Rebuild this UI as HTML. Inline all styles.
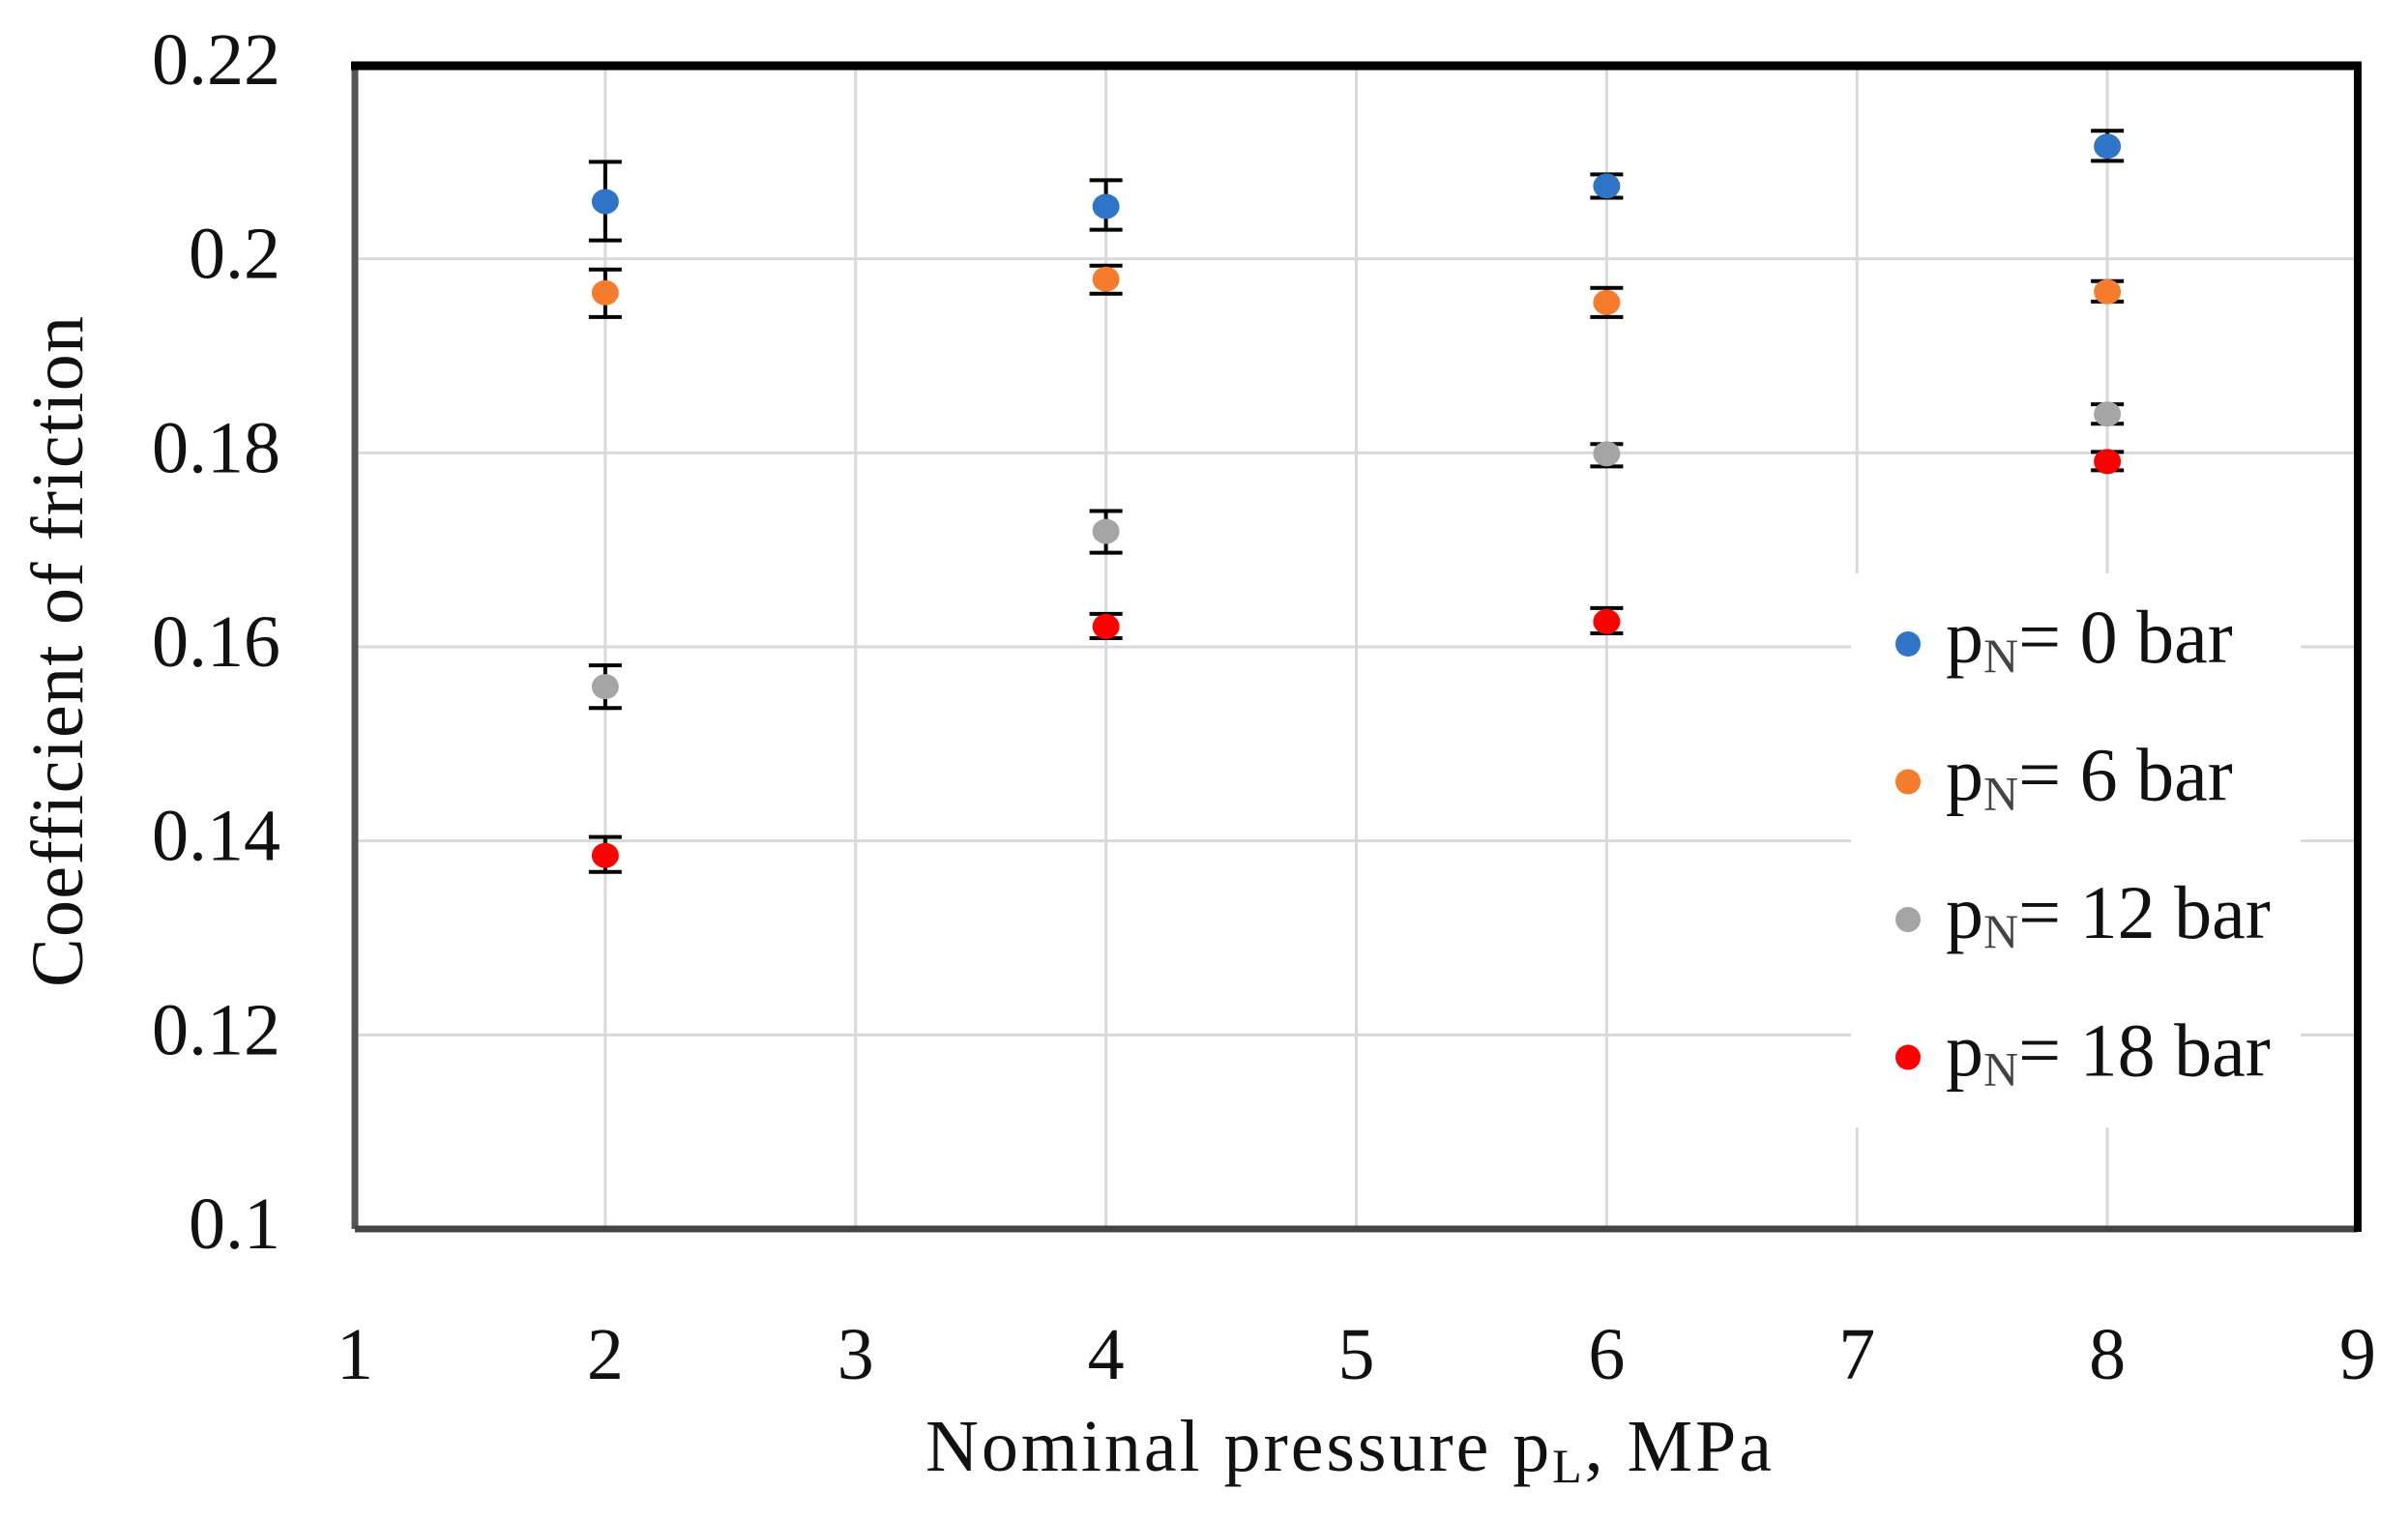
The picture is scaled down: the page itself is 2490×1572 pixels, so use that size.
<!DOCTYPE html>
<html>
<head>
<meta charset="utf-8">
<style>
  html, body { margin: 0; padding: 0; background: #fff; }
  svg { display: block; }
  text { font-family: "Liberation Serif", "DejaVu Serif", serif; fill: #111; }
</style>
</head>
<body>
<svg id="chart" width="2490" height="1572" viewBox="0 0 2490 1572" xmlns="http://www.w3.org/2000/svg">
  <g id="grid"></g>
  <g id="marks"></g>
  <rect x="1914" y="593" width="465" height="573" fill="#fff"/>
  <g id="legend"></g>
  <g>
    <line x1="367" y1="67" x2="367" y2="1271" stroke="#555" stroke-width="7"/>
    <line x1="367" y1="1271" x2="2438" y2="1271" stroke="#444" stroke-width="7"/>
    <line x1="2438" y1="67" x2="2438" y2="1274" stroke="#000" stroke-width="8"/>
    <line x1="363" y1="68" x2="2442" y2="68" stroke="#000" stroke-width="9"/>
  </g>
  <g id="ticks"></g>
  <text x="957" y="1521" font-size="76" textLength="875" lengthAdjust="spacing">Nominal pressure p<tspan font-size="50" dy="12">L</tspan><tspan dy="-12">, MPa</tspan></text>
  <text transform="translate(85,674) rotate(-90)" text-anchor="middle" font-size="76" textLength="694" lengthAdjust="spacing">Coefficient of friction</text>
</svg>
<script>
const xTicks = [1, 2, 3, 4, 5, 6, 7, 8, 9];
const yTicks = [0.1, 0.12, 0.14, 0.16, 0.18, 0.2, 0.22];
const yTickLabels = ["0.1", "0.12", "0.14", "0.16", "0.18", "0.2", "0.22"];
const xValues = [2, 4, 6, 8];
const seriesNames = ["p_N= 0 bar", "p_N= 6 bar", "p_N= 12 bar", "p_N= 18 bar"];
const legendValues = ["0", "6", "12", "18"];
const seriesColors = ["#2e75c8", "#f47c2a", "#a5a5a5", "#ff0000"];
const s0 = [0.2059, 0.2054, 0.2075, 0.2116];
const s0Hi = [0.2100, 0.2081, 0.2087, 0.2132];
const s0Lo = [0.2019, 0.2030, 0.2063, 0.2101];
const s1 = [0.1965, 0.1979, 0.1955, 0.1966];
const s1Hi = [0.1989, 0.1993, 0.1970, 0.1977];
const s1Lo = [0.1940, 0.1964, 0.1940, 0.1956];
const s2 = [0.1559, 0.1719, 0.1799, 0.1840];
const s2Hi = [0.1581, 0.1740, 0.1809, 0.1850];
const s2Lo = [0.1537, 0.1697, 0.1786, 0.1830];
const s3 = [0.1385, 0.1621, 0.1626, 0.1791];
const s3Hi = [0.1404, 0.1634, 0.1640, 0.1801];
const s3Lo = [0.1368, 0.1609, 0.1614, 0.1782];

const NS = "http://www.w3.org/2000/svg";
const L = 367, R = 2438, T = 67, B = 1271;
const xMin = 1, xMax = 9, yMin = 0.1, yMax = 0.22;
function sx(v) { return L + (v - xMin) / (xMax - xMin) * (R - L); }
function sy(v) { return B - (v - yMin) / (yMax - yMin) * (B - T); }
function mk(tag, attrs, parent) {
  const e = document.createElementNS(NS, tag);
  for (const k in attrs) e.setAttribute(k, attrs[k]);
  parent.appendChild(e);
  return e;
}
const grid = document.getElementById("grid");
const ticks = document.getElementById("ticks");
xTicks.forEach((t) => {
  if (t > xMin && t < xMax) {
    const g = mk("line", {x1: sx(t), x2: sx(t), y1: T, y2: B, stroke: "#d9d9d9", "stroke-width": 3}, grid);
    
    
  }
  const lb = mk("text", {x: sx(t), y: 1426, "text-anchor": "middle", "font-size": 76}, ticks);
  lb.textContent = String(t);
  
  
});
yTicks.forEach((t, i) => {
  if (i > 0 && i < yTicks.length - 1) {
    const g = mk("line", {x1: L, x2: R, y1: sy(t), y2: sy(t), stroke: "#d9d9d9", "stroke-width": 3}, grid);
    
    
  }
  const lb = mk("text", {x: 290, y: sy(t) + 20, "text-anchor": "end", "font-size": 76}, ticks);
  lb.textContent = yTickLabels[i];
  
  
});
const marks = document.getElementById("marks");
const all = [[s0, s0Hi, s0Lo], [s1, s1Hi, s1Lo], [s2, s2Hi, s2Lo], [s3, s3Hi, s3Lo]];
all.forEach((s, si) => {
  const g = mk("g", {}, marks);
  
  
  xValues.forEach((xv, i) => {
    const cx = sx(xv);
    const eb = mk("path", {d: `M${cx},${sy(s[1][i])}V${sy(s[2][i])}M${cx-17},${sy(s[1][i])}H${cx+17}M${cx-17},${sy(s[2][i])}H${cx+17}`, stroke: "#000", "stroke-width": 4, fill: "none"}, g);
    
    
    const p = mk("ellipse", {cx: cx, cy: sy(s[0][i]), rx: 14, ry: 13, fill: seriesColors[si]}, g);
    
    
  });
});
const legend = document.getElementById("legend");
legendValues.forEach((v, i) => {
  const y = 685 + i * 142.5;
  const g = mk("g", {}, legend);
  
  
  mk("circle", {cx: 1973, cy: y - 19, r: 13, fill: seriesColors[i]}, g);
  const t = mk("text", {x: 2012, y: y, "font-size": 78}, g);
  t.innerHTML = 'p<tspan font-size="50" dy="10" fill="#444">N</tspan><tspan dy="-10">= ' + v + ' bar</tspan>';
});
</script>
</body>
</html>
